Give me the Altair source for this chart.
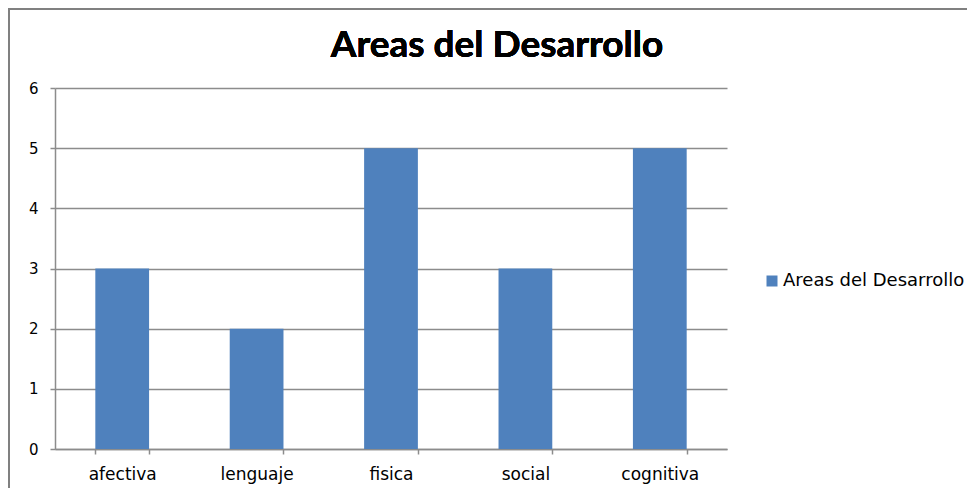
import altair as alt
import pandas as pd

categories = ["afectiva", "lenguaje", "fisica", "social", "cognitiva"]
values = [3, 2, 5, 3, 5]
series_name = "Areas del Desarrollo"
title_text = "Areas del Desarrollo"

df = pd.DataFrame({"area": categories, "valor": values, "serie": [series_name] * len(categories)})

WIDE = "DejaVu Sans"
GRAY = "#8c8c8c"

bars = alt.Chart(df).mark_bar(color="#4F81BD").encode(
    x=alt.X("area:N", sort=categories, title=None,
            scale=alt.Scale(paddingInner=0.6, paddingOuter=0.3),
            axis=alt.Axis(labelAngle=0, tickBand="extent", labelFontSize=17, labelFont=WIDE,
                          labelColor="#000000", domainColor=GRAY, domainWidth=1.5,
                          tickColor=GRAY, tickWidth=1.5, tickSize=5, labelPadding=12)),
    y=alt.Y("valor:Q", title=None,
            scale=alt.Scale(domain=[0, 6], nice=False),
            axis=alt.Axis(values=[0, 1, 2, 3, 4, 5, 6], labelFontSize=15, labelFont=WIDE,
                          labelColor="#000000", domainColor=GRAY, domainWidth=1.5,
                          tickColor=GRAY, tickWidth=1.5, tickSize=5, labelPadding=12,
                          grid=True, gridColor=GRAY, gridWidth=1.5)),
    color=alt.Color("serie:N", title=None,
                    scale=alt.Scale(domain=[series_name], range=["#4F81BD"]),
                    legend=alt.Legend(orient="none", legendX=708, legendY=184,
                                      symbolType="square", symbolSize=121,
                                      symbolStrokeWidth=0, labelFontSize=18,
                                      labelFont=WIDE, labelColor="#000000",
                                      labelOffset=2, labelLimit=300)),
)

title = alt.Chart(df).mark_text(
    text=title_text, fontSize=37, fontWeight="bold", font="Lato", color="#000000",
    align="center", baseline="middle"
).encode(x=alt.value(442), y=alt.value(-42))

top_border = alt.Chart(df).mark_rule(color="#808080", strokeWidth=2).encode(
    x=alt.value(-47), x2=alt.value(924), y=alt.value(-79)
)
left_border = alt.Chart(df).mark_rule(color="#808080", strokeWidth=2).encode(
    x=alt.value(-46), y=alt.value(-80), y2=alt.value(400)
)

chart = alt.layer(bars, title, top_border, left_border).properties(
    width=672, height=361,
    autosize=alt.AutoSizeParams(type="none"),
    padding={"left": 47, "top": 80, "right": 240, "bottom": 40},
).configure_view(stroke=None)

chart.save("out.html", embed_options={"renderer": "svg", "actions": False})
